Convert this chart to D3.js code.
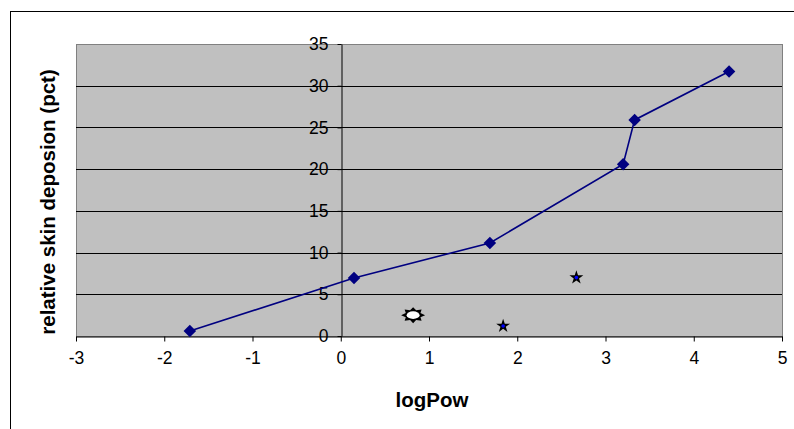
<!DOCTYPE html>
<html>
<head>
<meta charset="utf-8">
<script src="https://cdn.jsdelivr.net/npm/d3@7"></script>
<style>
  body { margin: 0; background: #fff; }
  svg { display: block; font-family: "Liberation Sans", Arial, sans-serif; }
</style>
</head>
<body>
<svg id="chart" width="794" height="429"></svg>
<script>
/***********************************************************************/
// Data

var xTicks = [-3, -2, -1, 0, 1, 2, 3, 4, 5];
var yTicks = [0, 5, 10, 15, 20, 25, 30, 35];

// connected series (diamonds)
var lineX = [-1.71, 0.15, 1.69, 3.2, 3.33, 4.4];
var lineY = [0.6, 6.95, 11.15, 20.6, 25.9, 31.7];

// single "sun" point
var sunX = [0.82];
var sunY = [2.5];

// star points
var starX = [1.84, 2.67];
var starY = [1.2, 7.0];

var xTitle = 'logPow';
var yTitle = 'relative skin deposion (pct)';

/***********************************************************************/
// Layout

var plot = { left: 76, top: 44, right: 782, bottom: 336 };

var svg = d3.select('#chart');

var xScale = d3.scaleLinear().domain([-3, 5]).range([plot.left, plot.right]);
var yScale = d3.scaleLinear().domain([0, 35]).range([plot.bottom, plot.top]);

// outer chart border (only left/top inside the picture)
svg.append('rect')
  .attr('x', 10.5).attr('y', 11.5)
  .attr('width', 900).attr('height', 600)
  .attr('fill', 'none').attr('stroke', '#000').attr('stroke-width', 1);

// plot area
svg.append('rect')
  .attr('x', plot.left + 0.5).attr('y', plot.top + 0.5)
  .attr('width', plot.right - plot.left).attr('height', plot.bottom - plot.top)
  .attr('fill', '#c0c0c0').attr('stroke', '#808080').attr('stroke-width', 1);

// gridlines
svg.append('g').selectAll('line')
  .data(yTicks.filter(d => d > 0 && d < 35))
  .join('line')
  .attr('x1', plot.left).attr('x2', plot.right)
  .attr('y1', d => Math.round(yScale(d)) + 0.5).attr('y2', d => Math.round(yScale(d)) + 0.5)
  .attr('stroke', '#000').attr('stroke-width', 1);

/***********************************************************************/
// Axes

var plainFmt = d => String(d); // keep ASCII hyphen for negatives

var xAxis = svg.append('g')
  .attr('transform', 'translate(0,' + (plot.bottom + 0.5) + ')')
  .call(d3.axisBottom(xScale).tickValues(xTicks).tickFormat(plainFmt).tickSize(5).tickPadding(10).tickSizeOuter(0));
xAxis.select('.domain').attr('stroke', '#000');
xAxis.selectAll('text').style('font-size', '17.5px').attr('fill', '#000');

var x0 = Math.round(xScale(0)) + 0.5;
var yAxis = svg.append('g')
  .attr('transform', 'translate(' + x0 + ',0)')
  .call(d3.axisLeft(yScale).tickValues(yTicks).tickFormat(plainFmt).tickSize(4).tickPadding(9).tickSizeOuter(0));
yAxis.select('.domain').attr('stroke', '#000');
yAxis.selectAll('text').style('font-size', '17.5px').attr('fill', '#000');

// titles
svg.append('text')
  .attr('x', 432).attr('y', 407)
  .attr('text-anchor', 'middle')
  .style('font-size', '20.5px').style('font-weight', 'bold')
  .text(xTitle);

svg.append('text')
  .attr('transform', 'translate(55,202) rotate(-90)')
  .attr('text-anchor', 'middle')
  .style('font-size', '20.5px').style('font-weight', 'bold')
  .text(yTitle);

/***********************************************************************/
// Series

var linePts = lineX.map((x, i) => [x, lineY[i]]);

svg.append('path')
  .datum(linePts)
  .attr('fill', 'none').attr('stroke', '#000080').attr('stroke-width', 1.6)
  .attr('d', d3.line().x(d => xScale(d[0])).y(d => yScale(d[1])));

svg.append('g').selectAll('path')
  .data(linePts)
  .join('path')
  .attr('transform', d => 'translate(' + xScale(d[0]) + ',' + yScale(d[1]) + ')')
  .attr('d', d3.symbol().type(d3.symbolDiamond2).size(100))
  .attr('fill', '#000080');

// sun marker: spiky black outline with white centre
function sunPath(rx, ry, n){
  var pts = [];
  for(let i = 0; i < n * 2; i++){
    var a = Math.PI * i / n;
    var r = (i % 2 === 0) ? 1 : 0.66;
    pts.push([Math.cos(a) * rx * r, Math.sin(a) * ry * r]);
  }
  return 'M' + pts.map(p => p.join(',')).join('L') + 'Z';
}

var sunPts = sunX.map((x, i) => [x, sunY[i]]);
var sun = svg.append('g').selectAll('g')
  .data(sunPts)
  .join('g')
  .attr('transform', d => 'translate(' + xScale(d[0]) + ',' + yScale(d[1]) + ')');
sun.append('path').attr('d', sunPath(12, 8, 8)).attr('fill', '#000');
sun.append('ellipse').attr('rx', 6.5).attr('ry', 3.8).attr('fill', '#fff');

// star markers
var starPts = starX.map((x, i) => [x, starY[i]]);
var stars = svg.append('g').selectAll('g')
  .data(starPts)
  .join('g')
  .attr('transform', d => 'translate(' + xScale(d[0]) + ',' + yScale(d[1]) + ')');
stars.append('path').attr('d', d3.symbol().type(d3.symbolStar).size(60)).attr('fill', '#000');
stars.append('circle').attr('r', 1.8).attr('fill', '#0000ff');
</script>
</body>
</html>
